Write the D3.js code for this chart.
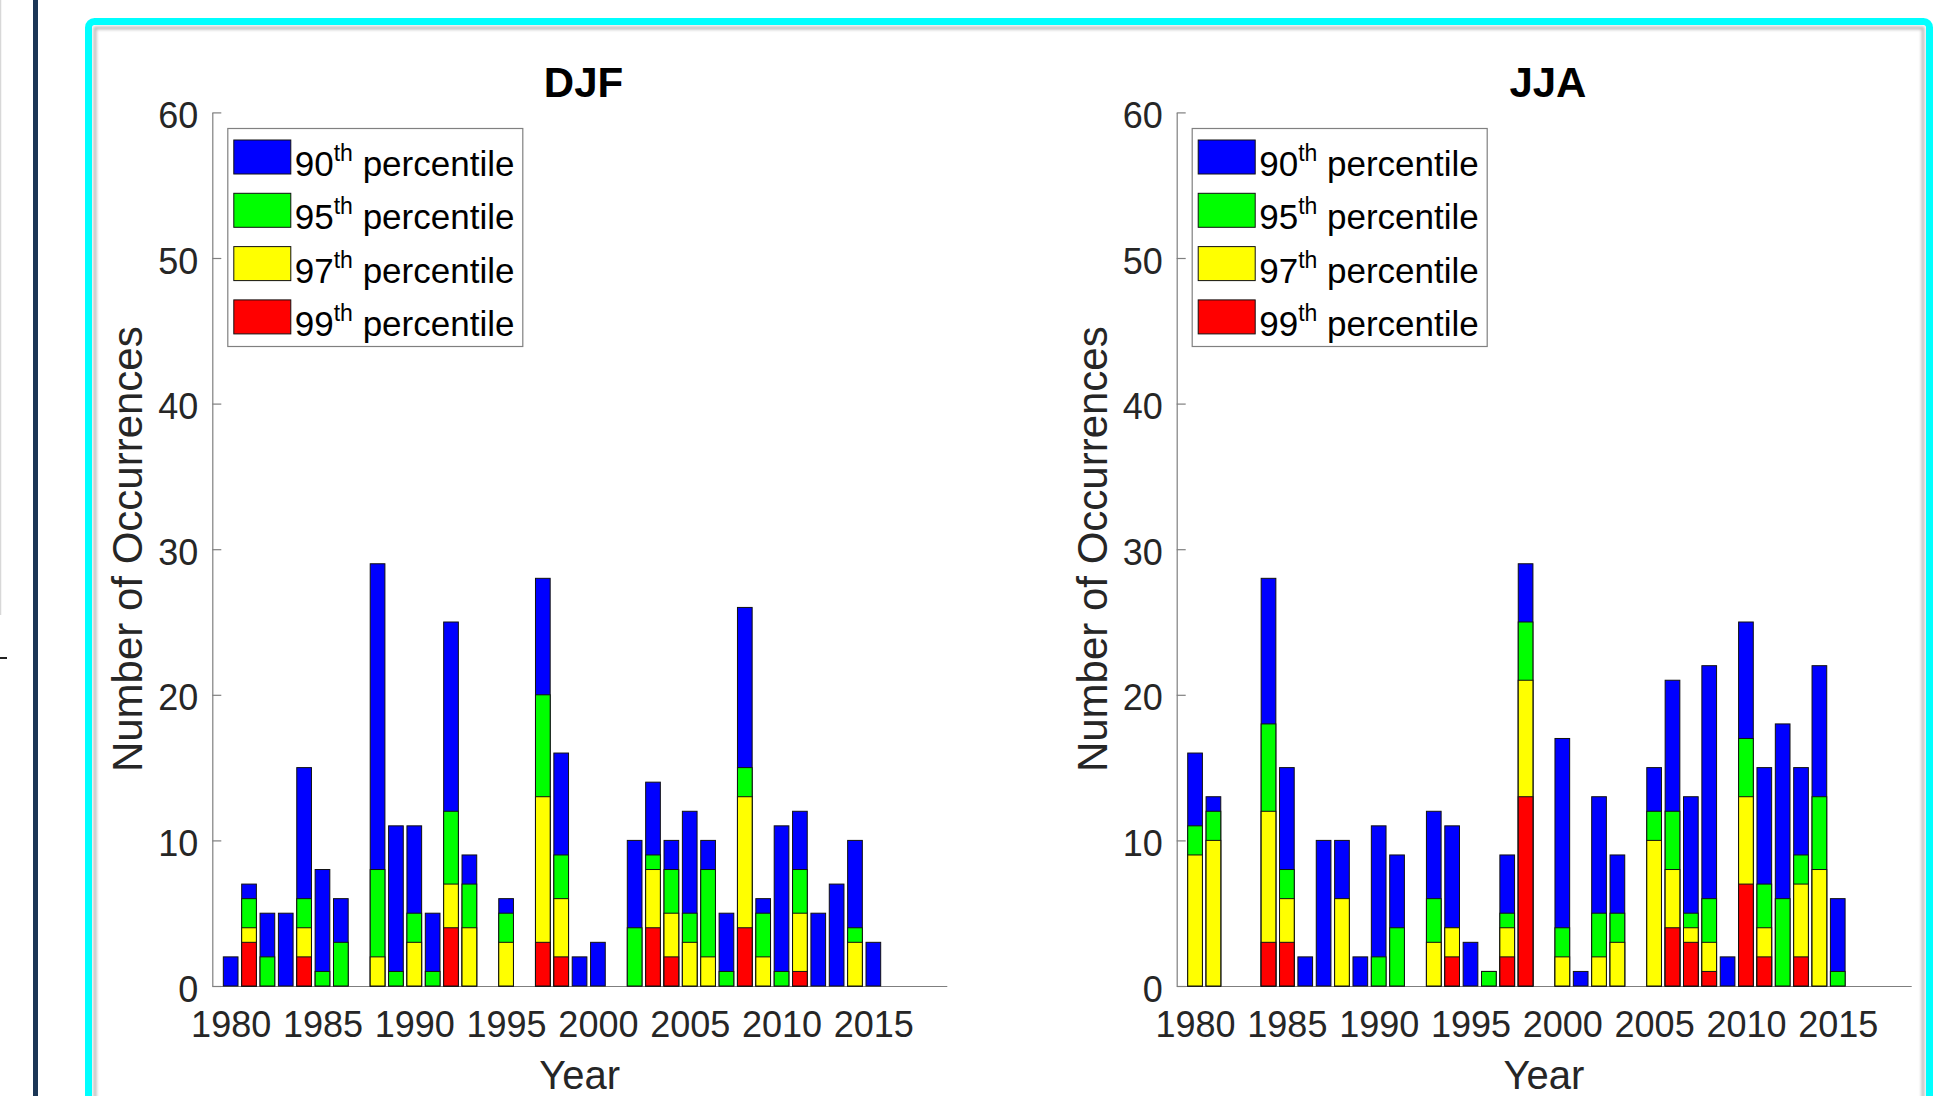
<!DOCTYPE html>
<html>
<head>
<meta charset="utf-8">
<script src="https://cdn.jsdelivr.net/npm/d3@7"></script>
<style>
  body { margin: 0; background: #fff; }
  svg { display: block; font-family: "Liberation Sans", Arial, sans-serif; }
</style>
</head>
<body>
<div id="chart"></div>
<script>
// years on the x axis
const years = [1980, 1981, 1982, 1983, 1984, 1985, 1986, 1987, 1988, 1989,
               1990, 1991, 1992, 1993, 1994, 1995, 1996, 1997, 1998, 1999,
               2000, 2001, 2002, 2003, 2004, 2005, 2006, 2007, 2008, 2009,
               2010, 2011, 2012, 2013, 2014, 2015];

// DJF counts per threshold
const djf90 = [2, 7, 5, 5, 15, 8, 6, 0, 29, 11, 11, 5, 25, 9, 0, 6, 0, 28, 16, 2,
               3, 0, 10, 14, 10, 12, 10, 5, 26, 6, 11, 12, 5, 7, 10, 3];
const djf95 = [0, 6, 2, 0, 6, 1, 3, 0, 8, 1, 5, 1, 12, 7, 0, 5, 0, 20, 9, 0,
               0, 0, 4, 9, 8, 5, 8, 1, 15, 5, 1, 8, 0, 0, 4, 0];
const djf97 = [0, 4, 0, 0, 4, 0, 0, 0, 2, 0, 3, 0, 7, 4, 0, 3, 0, 13, 6, 0,
               0, 0, 0, 8, 5, 3, 2, 0, 13, 2, 0, 5, 0, 0, 3, 0];
const djf99 = [0, 3, 0, 0, 2, 0, 0, 0, 0, 0, 0, 0, 4, 0, 0, 0, 0, 3, 2, 0,
               0, 0, 0, 4, 2, 0, 0, 0, 4, 0, 0, 1, 0, 0, 0, 0];

// JJA counts per threshold
const jja90 = [16, 13, 0, 0, 28, 15, 2, 10, 10, 2, 11, 9, 0, 12, 11, 3, 1, 9, 29, 0,
               17, 1, 13, 9, 0, 15, 21, 13, 22, 2, 25, 15, 18, 15, 22, 6];
const jja95 = [11, 12, 0, 0, 18, 8, 0, 0, 6, 0, 2, 4, 0, 6, 4, 0, 1, 5, 25, 0,
               4, 0, 5, 5, 0, 12, 12, 5, 6, 0, 17, 7, 6, 9, 13, 1];
const jja97 = [9, 10, 0, 0, 12, 6, 0, 0, 6, 0, 0, 0, 0, 3, 4, 0, 0, 4, 21, 0,
               2, 0, 2, 3, 0, 10, 8, 4, 3, 0, 13, 4, 0, 7, 8, 0];
const jja99 = [0, 0, 0, 0, 3, 3, 0, 0, 0, 0, 0, 0, 0, 0, 2, 0, 0, 2, 13, 0,
               0, 0, 0, 0, 0, 0, 4, 3, 1, 0, 7, 2, 0, 2, 0, 0];

const seriesNames = ['90', '95', '97', '99'];
const seriesColors = ['#0000ff', '#00ff00', '#ffff00', '#ff0000'];
const yTicks = [0, 10, 20, 30, 40, 50, 60];
const xTicks = [1980, 1985, 1990, 1995, 2000, 2005, 2010, 2015];

const W = 1937, H = 1096;
const svg = d3.select('#chart').append('svg')
  .attr('width', W)
  .attr('height', H);

// page furniture around the figure
svg.append('line')
   .attr('x1', 0.5).attr('x2', 0.5).attr('y1', 0).attr('y2', 615)
   .attr('stroke', '#d8d8d8').attr('stroke-width', 1.5);
svg.append('line')
   .attr('x1', 0).attr('x2', 7).attr('y1', 658).attr('y2', 658)
   .attr('stroke', '#222').attr('stroke-width', 2);
svg.append('rect')
   .attr('x', 33).attr('y', 0).attr('width', 5).attr('height', H)
   .attr('fill', '#1b3656');

const defs = svg.append('defs');
defs.append('filter').attr('id', 'soft')
    .append('feGaussianBlur').attr('stdDeviation', 1.5);

svg.append('rect')
   .attr('x', 95).attr('y', 28).attr('width', 1828).attr('height', 1100)
   .attr('fill', 'none').attr('stroke', 'rgba(0,0,0,0.28)').attr('stroke-width', 3)
   .attr('filter', 'url(#soft)');
svg.append('rect')
   .attr('x', 88.5).attr('y', 21.5).attr('width', 1841).attr('height', 1100)
   .attr('rx', 6)
   .attr('fill', 'none').attr('stroke', '#00ffff').attr('stroke-width', 7);

function drawPanel(x0, title, vals) {
  const x = d3.scaleLinear().domain([1979, 2019]).range([x0, x0 + 734.5]);
  const y = d3.scaleLinear().domain([0, 60]).range([986, 112.4]);
  const g = svg.append('g');

  const yAxis = g.append('g')
    .attr('transform', 'translate(' + x0 + ',0)')
    .call(d3.axisLeft(y).tickValues(yTicks).tickSize(-9).tickSizeOuter(0).tickPadding(14));
  yAxis.selectAll('.tick text').attr('dy', '0.42em');

  const xAxis = g.append('g')
    .attr('transform', 'translate(0,' + y(0) + ')')
    .call(d3.axisBottom(x).tickValues(xTicks).tickFormat(d3.format('d'))
            .tickSize(-9).tickSizeOuter(0).tickPadding(25));

  [xAxis, yAxis].forEach(a => {
    a.select('.domain').attr('stroke', '#7f7f7f').attr('stroke-width', 1.2);
    a.selectAll('.tick line').attr('stroke', '#7f7f7f').attr('stroke-width', 1.2);
    a.selectAll('.tick text')
     .attr('fill', '#262626')
     .style('font-size', '36px')
     .style('font-family', '"Liberation Sans", Arial, sans-serif');
  });

  const bw = x(1980.4) - x(1979.6);

  // bars overlap: larger count drawn first, smaller ones on top
  vals.forEach((arr, s) => {
    g.append('g')
     .selectAll('rect')
     .data(arr)
     .enter()
     .append('rect')
     .attr('x', (d, i) => x(years[i]) - bw / 2)
     .attr('y', d => y(d))
     .attr('width', bw)
     .attr('height', d => y(0) - y(d))
     .attr('fill', seriesColors[s])
     .attr('stroke', '#111')
     .attr('stroke-width', 1);
  });

  g.append('text')
   .attr('x', (x.range()[0] + x.range()[1]) / 2 + 4)
   .attr('y', 97)
   .attr('text-anchor', 'middle')
   .attr('font-weight', 'bold')
   .attr('font-size', 42)
   .attr('fill', '#000')
   .text(title);

  g.append('text')
   .attr('x', (x.range()[0] + x.range()[1]) / 2)
   .attr('y', 1089)
   .attr('text-anchor', 'middle')
   .attr('font-size', 40)
   .attr('fill', '#262626')
   .text('Year');

  g.append('text')
   .attr('transform', 'translate(' + (x0 - 70) + ',' + ((y(0) + y(60)) / 2) + ') rotate(-90)')
   .attr('text-anchor', 'middle')
   .attr('font-size', 42)
   .attr('fill', '#262626')
   .text('Number of Occurrences');

  // legend
  const lx = x0 + 15, ly = 128;
  const leg = g.append('g');
  leg.append('rect')
     .attr('x', lx + 0.5).attr('y', ly + 0.5)
     .attr('width', 295).attr('height', 218)
     .attr('fill', '#fff').attr('stroke', '#808080').attr('stroke-width', 1.2);

  seriesNames.forEach((name, i) => {
    const ry = ly + 12 + i * 53.3;
    leg.append('rect')
       .attr('x', lx + 6.5).attr('y', ry)
       .attr('width', 57).attr('height', 34)
       .attr('fill', seriesColors[i]).attr('stroke', '#111').attr('stroke-width', 1);
    const t = leg.append('text')
       .attr('x', lx + 67.5).attr('y', ry + 36)
       .attr('font-size', 35)
       .attr('fill', '#000');
    t.append('tspan').text(name);
    t.append('tspan').attr('font-size', 23).attr('dy', -15).text('th');
    t.append('tspan').attr('dy', 15).text('\u00a0percentile');
  });
}

drawPanel(212.3, 'DJF', [djf90, djf95, djf97, djf99]);
drawPanel(1176.7, 'JJA', [jja90, jja95, jja97, jja99]);
</script>
</body>
</html>
